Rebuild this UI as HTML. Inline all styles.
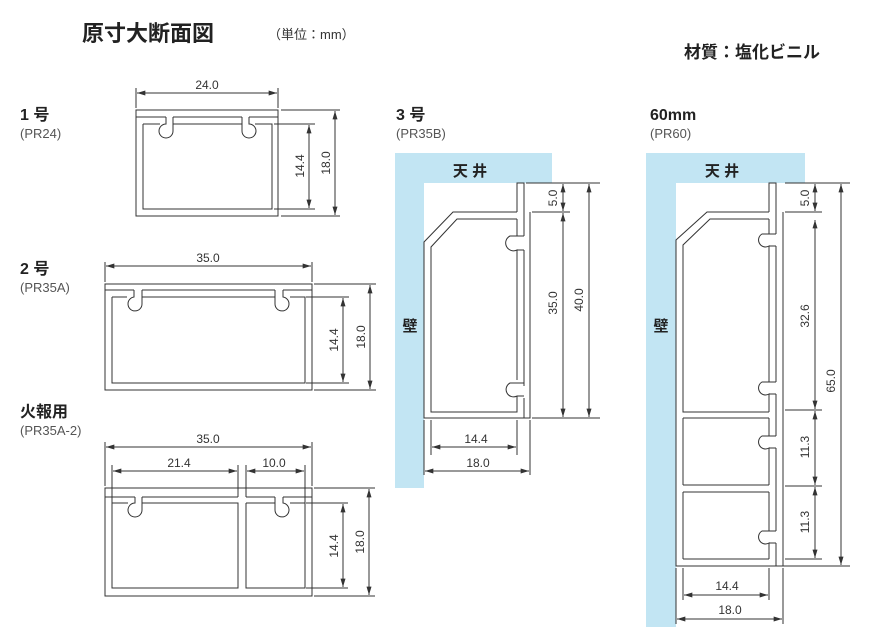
<!DOCTYPE html>
<html><head><meta charset="utf-8"><style>
html,body{margin:0;padding:0;background:#fff;}
svg{display:block;}
text{font-family:"Liberation Sans","Noto Sans CJK JP",sans-serif;fill:#333;}
.d{font-size:12px;}
</style></head><body>
<svg width="872" height="643" viewBox="0 0 872 643" xmlns="http://www.w3.org/2000/svg">
<defs>
<marker id="a" viewBox="0 0 10 6" refX="10" refY="3" markerWidth="9" markerHeight="5" orient="auto-start-reverse" markerUnits="userSpaceOnUse"><path d="M0,0 L10,3 L0,6z" fill="#333"/></marker>
</defs>
<g fill="none" stroke="#333" stroke-width="1">
<path d="M395,153 H552 V183 H424 V488 H395Z" fill="#c2e5f3" stroke="none"/>
<path d="M646,153 H805 V183 H676 V627 H646Z" fill="#c2e5f3" stroke="none"/>
</g>

<text x="82" y="41" style="font-size:22px;font-weight:bold;fill:#222">原寸大断面図</text>
<text x="268" y="39" style="font-size:13px">（単位：mm）</text>
<text x="684" y="58" style="font-size:17px;font-weight:bold;fill:#222">材質：塩化ビニル</text>
<text x="20" y="120" style="font-size:16px;font-weight:bold;fill:#222">1 号</text>
<text x="20" y="138" style="font-size:13px;fill:#555">(PR24)</text>
<text x="20" y="274" style="font-size:16px;font-weight:bold;fill:#222">2 号</text>
<text x="20" y="292" style="font-size:13px;fill:#555">(PR35A)</text>
<text x="20" y="417" style="font-size:16px;font-weight:bold;fill:#222">火報用</text>
<text x="20" y="435" style="font-size:13px;fill:#555">(PR35A-2)</text>
<text x="396" y="120" style="font-size:16px;font-weight:bold;fill:#222">3 号</text>
<text x="396" y="138" style="font-size:13px;fill:#555">(PR35B)</text>
<text x="650" y="120" style="font-size:16px;font-weight:bold;fill:#222">60mm</text>
<text x="650" y="138" style="font-size:13px;fill:#555">(PR60)</text>

<g fill="none" stroke="#333" stroke-width="1">
<!-- TYPE 1 -->
<rect x="136" y="110" width="142" height="106"/>
<path d="M136,117 H166 M173,117 H242 M249,117 H278"/>
<path d="M143,124 H160 M173,124 H242 M255,124 H272 V209 H143 V124"/>
<path d="M166,117 V124 A7 7 0 1 0 173,131 V117"/>
<path d="M242,117 V131 A7 7 0 1 0 249,124 V117"/>
<path d="M136,88 V108 M278,88 V108 M281,110 H340 M281,216 H340 M274,124 H315 M274,209 H315"/>
<path d="M137,93 H277" marker-start="url(#a)" marker-end="url(#a)"/>
<path d="M309,125 V208" marker-start="url(#a)" marker-end="url(#a)"/>
<path d="M335,111 V215" marker-start="url(#a)" marker-end="url(#a)"/>

<!-- TYPE 2 -->
<rect x="105" y="284" width="207" height="106"/>
<path d="M105,290 H134 M142,290 H275 M283,290 H312"/>
<path d="M112,297 H127 M142,297 H275 M290,297 H305 V383 H112 V297"/>
<path d="M134,290 V297 A7 7 0 1 0 142,304 V290"/>
<path d="M275,290 V304 A7 7 0 1 0 283,297 V290"/>
<path d="M105,262 V282 M312,262 V282 M314,284 H376 M314,390 H376 M306,297 H349 M306,383 H349"/>
<path d="M106,266 H311" marker-start="url(#a)" marker-end="url(#a)"/>
<path d="M343,298 V382" marker-start="url(#a)" marker-end="url(#a)"/>
<path d="M370,285 V389" marker-start="url(#a)" marker-end="url(#a)"/>

<!-- FIRE -->
<rect x="105" y="488" width="207" height="108"/>
<path d="M105,497 H135 M142,497 H238 M246,497 H275 M283,497 H312"/>
<path d="M112,503 H128 M142,503 H238 V588 H112 V503"/>
<path d="M246,503 H275 M290,503 H305 V588 H246 V503"/>
<path d="M135,497 V503 A7 7 0 1 0 142,510 V497"/>
<path d="M275,497 V510 A7 7 0 1 0 283,503 V497"/>
<path d="M238,465 V497 M246,465 V497 M112,465 V503 M305,465 V503 M105,442 V486 M312,442 V486"/>
<path d="M314,488 H375 M314,596 H375 M306,503 H348 M306,588 H348"/>
<path d="M106,447 H311" marker-start="url(#a)" marker-end="url(#a)"/>
<path d="M113,471 H237" marker-start="url(#a)" marker-end="url(#a)"/>
<path d="M247,471 H304" marker-start="url(#a)" marker-end="url(#a)"/>
<path d="M343,504 V587" marker-start="url(#a)" marker-end="url(#a)"/>
<path d="M369,489 V595" marker-start="url(#a)" marker-end="url(#a)"/>

<!-- TYPE 3 -->
<path d="M517,212 H453 L424,242 V418 H530 V212 M517,212 V183 H524 V212"/>
<path d="M524,212 V236 M524,250 V386 M524,398 V418"/>
<path d="M517,219 H457 L431,247 V412 H517 V396 M517,236 V219"/>
<path d="M517,236 H510 A7 7 0 1 0 517,250 V380"/>
<path d="M517,383 H510 A7 7 0 1 0 517,396"/>
<path d="M517,236 H524 M517,250 H524 M517,383 H524 M517,396 H524"/>
<path d="M526,183 H600 M532,212 H570 M532,418 H600"/>
<path d="M431,420 V455 M517,420 V455 M424,420 V475 M530,420 V475"/>
<path d="M563,184 V211" marker-start="url(#a)" marker-end="url(#a)"/>
<path d="M563,213 V417" marker-start="url(#a)" marker-end="url(#a)"/>
<path d="M589,184 V417" marker-start="url(#a)" marker-end="url(#a)"/>
<path d="M432,447 H516" marker-start="url(#a)" marker-end="url(#a)"/>
<path d="M425,471 H529" marker-start="url(#a)" marker-end="url(#a)"/>

<!-- 60mm -->
<path d="M769,212 H707 L676,240 V566 H783 V212 M769,212 V183 H776 V212"/>
<path d="M776,212 V234 M776,246 V382 M776,394 V436 M776,448 V531 M776,543 V566"/>
<path d="M769,219 H710 L683,245 V412 H769 M683,418 H769 M683,485 H769 M683,492 H769 M683,559 H769"/>
<path d="M683,418 V485 M683,492 V559"/>
<path d="M769,219 V234 H762 A6 6 0 1 0 769,246 V382 H762 A6 6 0 1 0 769,394 V412 M769,418 V436 H762 A6 6 0 1 0 769,448 V485 M769,492 V531 H762 A6 6 0 1 0 769,543 V559"/>
<path d="M769,234 H776 M769,246 H776 M769,382 H776 M769,394 H776 M769,436 H776 M769,448 H776 M769,531 H776 M769,543 H776"/>
<path d="M785,183 H850 M785,212 H822 M785,410 H822 M785,486 H822 M785,559 H822 M783,566 H850"/>
<path d="M683,568 V600 M769,568 V600 M676,568 V624 M783,568 V624"/>
<path d="M815,184 V211" marker-start="url(#a)" marker-end="url(#a)"/>
<path d="M815,220 V409" marker-start="url(#a)" marker-end="url(#a)"/>
<path d="M815,411 V485" marker-start="url(#a)" marker-end="url(#a)"/>
<path d="M815,487 V558" marker-start="url(#a)" marker-end="url(#a)"/>
<path d="M841,184 V565" marker-start="url(#a)" marker-end="url(#a)"/>
<path d="M684,595 H768" marker-start="url(#a)" marker-end="url(#a)"/>
<path d="M677,619 H782" marker-start="url(#a)" marker-end="url(#a)"/>
</g>

<g>
<text class="d" x="207" y="89" text-anchor="middle">24.0</text>
<text class="d" transform="translate(304,166) rotate(-90)" text-anchor="middle">14.4</text>
<text class="d" transform="translate(330,163) rotate(-90)" text-anchor="middle">18.0</text>
<text class="d" x="208" y="262" text-anchor="middle">35.0</text>
<text class="d" transform="translate(338,340) rotate(-90)" text-anchor="middle">14.4</text>
<text class="d" transform="translate(365,337) rotate(-90)" text-anchor="middle">18.0</text>
<text class="d" x="208" y="443" text-anchor="middle">35.0</text>
<text class="d" x="179" y="467" text-anchor="middle">21.4</text>
<text class="d" x="274" y="467" text-anchor="middle">10.0</text>
<text class="d" transform="translate(338,546) rotate(-90)" text-anchor="middle">14.4</text>
<text class="d" transform="translate(364,542) rotate(-90)" text-anchor="middle">18.0</text>
<text class="d" transform="translate(557,198) rotate(-90)" text-anchor="middle">5.0</text>
<text class="d" transform="translate(557,303) rotate(-90)" text-anchor="middle">35.0</text>
<text class="d" transform="translate(583,300) rotate(-90)" text-anchor="middle">40.0</text>
<text class="d" x="476" y="443" text-anchor="middle">14.4</text>
<text class="d" x="478" y="467" text-anchor="middle">18.0</text>
<text class="d" transform="translate(809,198) rotate(-90)" text-anchor="middle">5.0</text>
<text class="d" transform="translate(809,316) rotate(-90)" text-anchor="middle">32.6</text>
<text class="d" transform="translate(809,447) rotate(-90)" text-anchor="middle">11.3</text>
<text class="d" transform="translate(809,522) rotate(-90)" text-anchor="middle">11.3</text>
<text class="d" transform="translate(835,381) rotate(-90)" text-anchor="middle">65.0</text>
<text class="d" x="727" y="590" text-anchor="middle">14.4</text>
<text class="d" x="730" y="614" text-anchor="middle">18.0</text>
</g>
<text x="470" y="176" text-anchor="middle" style="font-size:15px;font-weight:bold;fill:#222">天 井</text>
<text x="722" y="176" text-anchor="middle" style="font-size:15px;font-weight:bold;fill:#222">天 井</text>
<text x="410" y="331" text-anchor="middle" style="font-size:15px;font-weight:bold;fill:#222">壁</text>
<text x="661" y="331" text-anchor="middle" style="font-size:15px;font-weight:bold;fill:#222">壁</text>
</svg>
</body></html>
